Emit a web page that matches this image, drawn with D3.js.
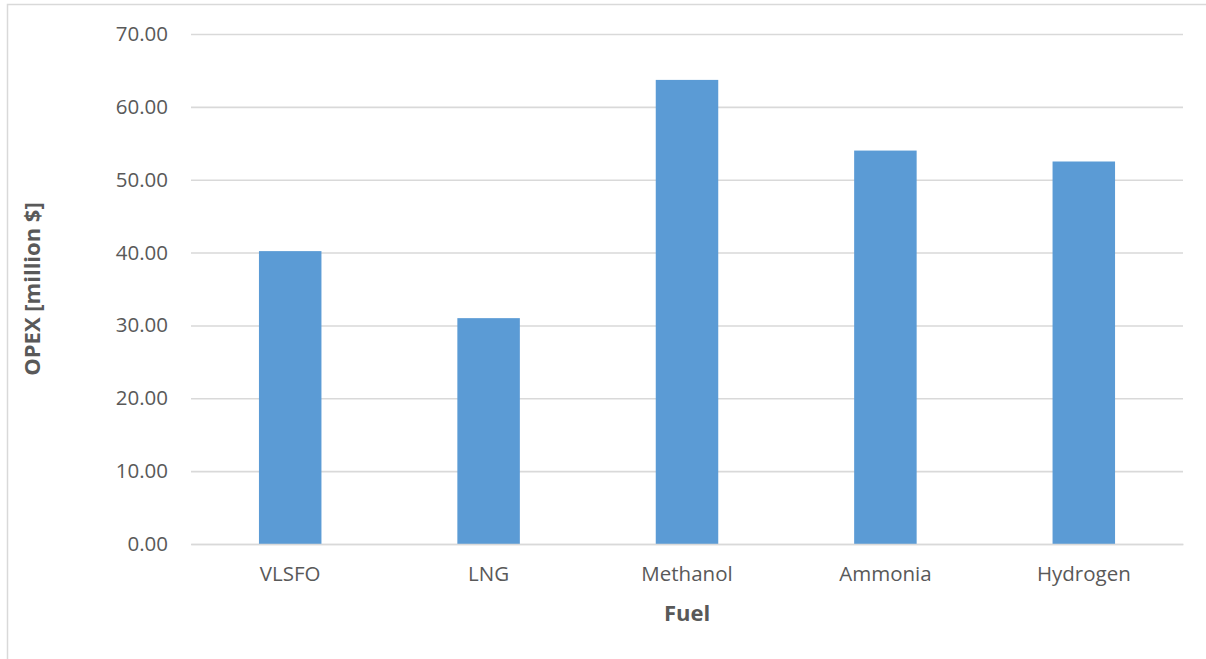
<!DOCTYPE html>
<html>
<head>
<meta charset="utf-8">
<script src="https://cdn.jsdelivr.net/npm/d3@7/dist/d3.min.js"></script>
<style>
  html, body { margin: 0; padding: 0; background: #fff; }
  svg { display: block; }
  text { font-family: "Open Sans", Lato, "Liberation Sans", sans-serif; }
</style>
</head>
<body>
<svg id="chart" width="1206" height="659"></svg>
<script>
// OPEX per fuel type, million $
const fuels = ["VLSFO", "LNG", "Methanol", "Ammonia", "Hydrogen"];
const opex = [40.2, 31.0, 63.7, 54.0, 52.5];
const yTicks = [0, 10, 20, 30, 40, 50, 60, 70];

const svg = d3.select("#chart");
const W = 1206, H = 659;
const margin = { left: 191, right: 23, top: 34, bottom: 115 };
const plotW = W - margin.left - margin.right;
const plotH = H - margin.top - margin.bottom;

// chart-area frame (runs off the right and bottom edges)
svg.append("rect")
  .attr("x", 7.5).attr("y", 4.5)
  .attr("width", W + 10).attr("height", H + 10)
  .attr("fill", "#fff")
  .attr("stroke", "#d9d9d9").attr("stroke-width", 1.5);

const x = d3.scaleBand().domain(fuels).range([0, plotW]).paddingInner(0.685).paddingOuter(0.3425);
const y = d3.scaleLinear().domain([0, 70]).range([plotH, 0]);

const g = svg.append("g").attr("transform", `translate(${margin.left},${margin.top})`);

// horizontal gridlines with tick labels
const yAxis = d3.axisLeft(y).tickValues(yTicks).tickSize(-plotW).tickPadding(23)
  .tickFormat(d3.format(".2f"));
const ya = g.append("g").call(yAxis);
ya.select(".domain").remove();
ya.selectAll(".tick line").attr("stroke", "#d9d9d9").attr("stroke-width", 1.6);
ya.selectAll(".tick text").attr("fill", "#595959").style("font-size", "20.5px");

// bars
g.selectAll("rect.bar").data(fuels).join("rect")
  .attr("class", "bar")
  .attr("x", d => x(d))
  .attr("width", x.bandwidth())
  .attr("y", (d, i) => y(opex[i]))
  .attr("height", (d, i) => plotH - y(opex[i]))
  .attr("fill", "#5b9bd5");

// category axis
const xa = g.append("g").attr("transform", `translate(0,${plotH})`)
  .call(d3.axisBottom(x).tickSize(0).tickPadding(22));
xa.select(".domain").attr("stroke", "#d9d9d9").attr("stroke-width", 1.6);
xa.selectAll(".tick text").attr("fill", "#595959").style("font-size", "20.5px");

// axis titles
svg.append("text")
  .attr("x", margin.left + plotW / 2).attr("y", 621)
  .attr("text-anchor", "middle")
  .attr("fill", "#595959").attr("font-weight", "bold").style("font-size", "22px")
  .text("Fuel");

svg.append("text")
  .attr("transform", `translate(40,${margin.top + plotH / 2}) rotate(-90)`)
  .attr("text-anchor", "middle")
  .attr("fill", "#595959").attr("font-weight", "bold").style("font-size", "22px")
  .text("OPEX [million $]");
</script>
</body>
</html>
